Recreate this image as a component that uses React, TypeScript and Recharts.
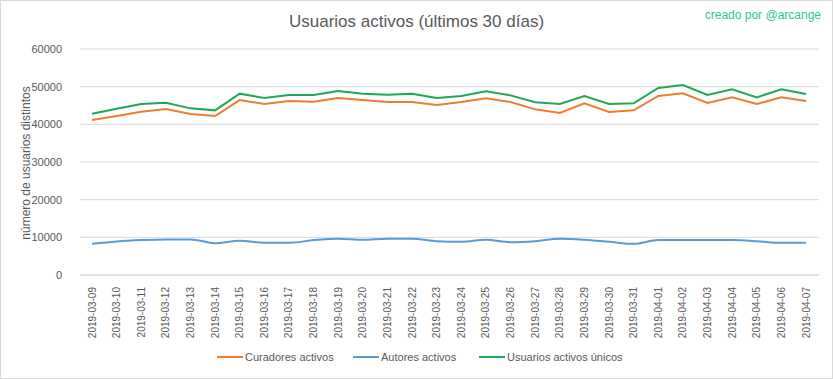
import React from "react";
import { LineChart, Line, XAxis, YAxis, CartesianGrid } from "recharts";

const dates = [
  "2019-03-09", "2019-03-10", "2019-03-11", "2019-03-12", "2019-03-13", "2019-03-14",
  "2019-03-15", "2019-03-16", "2019-03-17", "2019-03-18", "2019-03-19", "2019-03-20",
  "2019-03-21", "2019-03-22", "2019-03-23", "2019-03-24", "2019-03-25", "2019-03-26",
  "2019-03-27", "2019-03-28", "2019-03-29", "2019-03-30", "2019-03-31", "2019-04-01",
  "2019-04-02", "2019-04-03", "2019-04-04", "2019-04-05", "2019-04-06", "2019-04-07",
];

const curadores = [
  41150, 42210, 43360, 44070, 42740, 42210, 46450, 45390, 46190, 46010,
  46980, 46450, 45920, 45920, 45130, 45920, 46900, 45920, 43980, 43010,
  45570, 43270, 43710, 47520, 48220, 45660, 47160, 45390, 47160, 46190,
];

const autores = [
  8265, 8900, 9260, 9450, 9450, 8450, 9080, 8540, 8540, 9260,
  9630, 9350, 9630, 9630, 8990, 8810, 9350, 8720, 8990, 9630,
  9350, 8810, 8265, 9260, 9260, 9260, 9260, 8990, 8540, 8540,
];

const unicos = [
  42830, 44160, 45390, 45750, 44240, 43710, 48140, 46980, 47780, 47780,
  48840, 48140, 47870, 48140, 46980, 47520, 48750, 47690, 45840, 45390,
  47520, 45390, 45570, 49640, 50430, 47780, 49280, 47160, 49280, 48050,
];

const yTicks = [0, 10000, 20000, 30000, 40000, 50000, 60000];

const data = dates.map((d, i) => ({
  date: d,
  curadores: curadores[i],
  autores: autores[i],
  unicos: unicos[i],
}));

const FONT = "'Liberation Sans', Arial, sans-serif";
const TEXT = "#595959";

const XTick = (props: any) => {
  const { x, y, payload } = props;
  return (
    <g transform={`translate(${x},${y + 4})`}>
      <text
        transform="rotate(-90)"
        textAnchor="end"
        dy="0.35em"
        fontSize={10}
        fontFamily={FONT}
        fill={TEXT}
      >
        {payload.value}
      </text>
    </g>
  );
};

const legendItems = [
  { label: "Curadores activos", color: "#ED7D31", left: 217 },
  { label: "Autores activos", color: "#5B9BD5", left: 353 },
  { label: "Usuarios activos únicos", color: "#1FA855", left: 479 },
];

export default function App() {
  return (
    <div
      style={{
        position: "absolute",
        left: 0,
        top: 0,
        width: 833,
        height: 379,
        background: "#fff",
        fontFamily: FONT,
      }}
    >
      <div
        style={{
          position: "absolute",
          left: 0,
          top: 0,
          width: 831,
          height: 377,
          border: "1px solid #d9d9d9",
        }}
      />
      <div
        style={{
          position: "absolute",
          left: 0,
          width: 833,
          top: 11,
          textAlign: "center",
          fontSize: 17,
          color: TEXT,
          lineHeight: "22px",
        }}
      >
        Usuarios activos (últimos 30 días)
      </div>
      <div
        style={{
          position: "absolute",
          right: 12,
          top: 7,
          fontSize: 12,
          color: "#2CC6A0",
          lineHeight: "16px",
        }}
      >
        creado por @arcange
      </div>
      <svg
        width={60}
        height={379}
        style={{ position: "absolute", left: 0, top: 0 }}
      >
        <text
          x={26}
          y={163}
          transform="rotate(-90, 26, 163)"
          textAnchor="middle"
          dominantBaseline="central"
          fontSize={12}
          fontFamily={FONT}
          fill={TEXT}
        >
          número de usuarios distintos
        </text>
      </svg>
      <div style={{ position: "absolute", left: 0, top: 0 }}>
        <LineChart
          width={833}
          height={379}
          data={data}
          margin={{ top: 49, right: 14, left: 0, bottom: 34 }}
        >
          <CartesianGrid vertical={false} stroke="#d9d9d9" strokeWidth={1} />
          <XAxis
            dataKey="date"
            interval={0}
            height={70}
            padding={{ left: 12, right: 13 }}
            tick={<XTick />}
            tickLine={false}
            axisLine={{ stroke: "#d9d9d9" }}
          />
          <YAxis
            width={80}
            domain={[0, 60000]}
            ticks={yTicks}
            axisLine={false}
            tickLine={false}
            tickMargin={12}
            tick={{ fontSize: 11, fill: TEXT, fontFamily: FONT }}
          />
          <Line
            type="linear"
            dataKey="curadores"
            stroke="#ED7D31"
            strokeWidth={2}
            dot={false}
            isAnimationActive={false}
          />
          <Line
            type="monotone"
            dataKey="autores"
            stroke="#5B9BD5"
            strokeWidth={2}
            dot={false}
            isAnimationActive={false}
          />
          <Line
            type="linear"
            dataKey="unicos"
            stroke="#1FA855"
            strokeWidth={2}
            dot={false}
            isAnimationActive={false}
          />
        </LineChart>
      </div>
      {legendItems.map((it) => (
        <div
          key={it.label}
          style={{
            position: "absolute",
            left: it.left,
            top: 349,
            display: "flex",
            alignItems: "center",
            fontSize: 11,
            color: TEXT,
            lineHeight: "16px",
            whiteSpace: "nowrap",
          }}
        >
          <span
            style={{
              display: "inline-block",
              width: 26,
              height: 2,
              background: it.color,
              marginRight: 2,
            }}
          />
          {it.label}
        </div>
      ))}
    </div>
  );
}
